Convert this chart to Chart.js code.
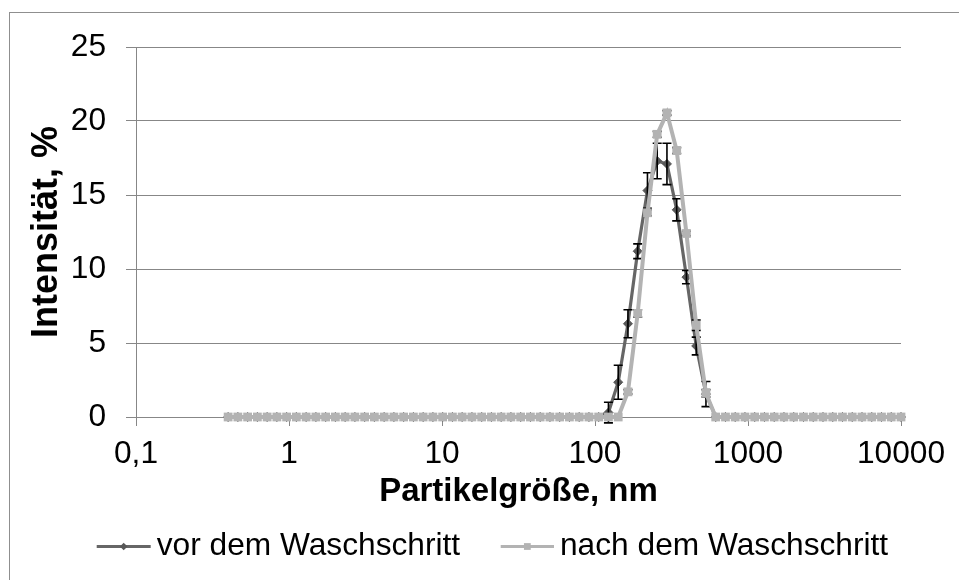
<!DOCTYPE html>
<html lang="de">
<head>
<meta charset="utf-8">
<title>Partikelgrößenverteilung</title>
<script src="https://cdn.jsdelivr.net/npm/chart.js@4/dist/chart.umd.min.js"></script>
<style>
  html, body { margin: 0; padding: 0; background: #ffffff; }
  #wrap { width: 959px; height: 580px; }
</style>
</head>
<body>
<div id="wrap"><canvas id="c" width="959" height="580"></canvas></div>
<script>
// DLS size classes (nm)
const sizeClasses = [
  0.4, 0.4632, 0.5365, 0.6213, 0.7195, 0.8332, 0.9649, 1.117, 1.294, 1.499,
  1.736, 2.010, 2.328, 2.696, 3.122, 3.615, 4.187, 4.849, 5.615, 6.503,
  7.531, 8.721, 10.10, 11.70, 13.54, 15.69, 18.17, 21.04, 24.36, 28.21,
  32.67, 37.84, 43.82, 50.75, 58.77, 68.06, 78.82, 91.28, 105.7, 122.4,
  141.8, 164.2, 190.1, 220.2, 255.0, 295.3, 342.0, 396.1, 458.7, 531.2,
  615.1, 712.4, 825.0, 955.4, 1106, 1281, 1484, 1718, 1990, 2305,
  2669, 3091, 3580, 4145, 4801, 5560, 6439, 7456, 8635, 10000
];

// Intensity (%) before washing, with standard deviation
const vorWerte = [
  0, 0, 0, 0, 0, 0, 0, 0, 0, 0,
  0, 0, 0, 0, 0, 0, 0, 0, 0, 0,
  0, 0, 0, 0, 0, 0, 0, 0, 0, 0,
  0, 0, 0, 0, 0, 0, 0, 0, 0, 0.3,
  2.35, 6.3, 11.2, 15.3, 17.3, 17.1, 14.0, 9.45, 4.8, 1.55,
  0, 0, 0, 0, 0, 0, 0, 0, 0, 0,
  0, 0, 0, 0, 0, 0, 0, 0, 0, 0
];
const vorFehler = [
  0, 0, 0, 0, 0, 0, 0, 0, 0, 0,
  0, 0, 0, 0, 0, 0, 0, 0, 0, 0,
  0, 0, 0, 0, 0, 0, 0, 0, 0, 0,
  0, 0, 0, 0, 0, 0, 0, 0, 0, 0.7,
  1.15, 0.95, 0.5, 1.2, 1.2, 1.4, 0.75, 0.45, 0.6, 0.85,
  0, 0, 0, 0, 0, 0, 0, 0, 0, 0,
  0, 0, 0, 0, 0, 0, 0, 0, 0, 0
];

// Intensity (%) after washing, with standard deviation
const nachWerte = [
  0, 0, 0, 0, 0, 0, 0, 0, 0, 0,
  0, 0, 0, 0, 0, 0, 0, 0, 0, 0,
  0, 0, 0, 0, 0, 0, 0, 0, 0, 0,
  0, 0, 0, 0, 0, 0, 0, 0, 0, 0,
  0, 1.7, 7.0, 13.8, 19.1, 20.55, 18.0, 12.4, 6.2, 1.6,
  0, 0, 0, 0, 0, 0, 0, 0, 0, 0,
  0, 0, 0, 0, 0, 0, 0, 0, 0, 0
];
const nachFehler = [
  0, 0, 0, 0, 0, 0, 0, 0, 0, 0,
  0, 0, 0, 0, 0, 0, 0, 0, 0, 0,
  0, 0, 0, 0, 0, 0, 0, 0, 0, 0,
  0, 0, 0, 0, 0, 0, 0, 0, 0, 0,
  0, 0.15, 0.25, 0.2, 0.2, 0.15, 0.2, 0.15, 0.35, 0.25,
  0, 0, 0, 0, 0, 0, 0, 0, 0, 0,
  0, 0, 0, 0, 0, 0, 0, 0, 0, 0
];

const seriesNames = ['vor dem Waschschritt', 'nach dem Waschschritt'];
const xTickValues = [0.1, 1, 10, 100, 1000, 10000];
const xTickLabels = ['0,1', '1', '10', '100', '1000', '10000'];
const yTickValues = [0, 5, 10, 15, 20, 25];
const xTitle = 'Partikelgröße, nm';
const yTitle = 'Intensität, %';

const FONT = "'Liberation Sans', Arial, sans-serif";
const GRID = '#878787';
const DARK = '#666666';
const DARK_MARK = '#575757';
const LIGHT = '#b3b3b3';

// white page with the thin outer frame
const framePlugin = {
  id: 'frame',
  beforeDraw(chart) {
    const c = chart.ctx;
    c.save();
    c.fillStyle = '#ffffff';
    c.fillRect(0, 0, chart.width, chart.height);
    c.strokeStyle = '#8f8f8f';
    c.lineWidth = 1;
    c.strokeRect(9.5, 12.5, chart.width + 20, chart.height + 20);
    c.restore();
  }
};

// vertical error bars with caps, taken from dataset.errors
function drawErrorBars(chart, index) {
  const ds = chart.data.datasets[index];
  if (!ds.errors) return;
  const meta = chart.getDatasetMeta(index);
  const ys = chart.scales.y;
  const c = chart.ctx;
  c.save();
  c.strokeStyle = '#000000';
  c.lineWidth = 1.6;
  const cap = 4.5;
  meta.data.forEach((pt, i) => {
    const e = ds.errors[i];
    if (!e) return;
    const v = ds.data[i].y;
    const yTop = ys.getPixelForValue(v + e);
    const yBot = ys.getPixelForValue(v - e);
    const x = pt.x;
    c.beginPath();
    c.moveTo(x, yTop); c.lineTo(x, yBot);
    c.moveTo(x - cap, yTop); c.lineTo(x + cap, yTop);
    c.moveTo(x - cap, yBot); c.lineTo(x + cap, yBot);
    c.stroke();
  });
  c.restore();
}
const errorBarPlugin = {
  id: 'errorBars',
  beforeDatasetDraw(chart, args) {
    if (chart.data.datasets[args.index].errorsBelow) drawErrorBars(chart, args.index);
  },
  afterDatasetDraw(chart, args) {
    if (!chart.data.datasets[args.index].errorsBelow) drawErrorBars(chart, args.index);
  }
};

// legend row under the axis title: line + marker + series name
function drawMarker(c, style, x, y, r, color) {
  c.fillStyle = color;
  c.beginPath();
  if (style === 'rectRot') {
    c.moveTo(x, y - r); c.lineTo(x + r, y); c.lineTo(x, y + r); c.lineTo(x - r, y);
  } else {
    const h = r * Math.SQRT1_2;
    c.rect(x - h, y - h, 2 * h, 2 * h);
  }
  c.closePath();
  c.fill();
}
const legendPlugin = {
  id: 'lineLegend',
  afterDraw(chart) {
    const c = chart.ctx;
    const y = 546.5;
    const slots = [
      { x0: 96.7, x1: 150.7, tx: 156.7 },
      { x0: 500.7, x1: 554, tx: 560 }
    ];
    c.save();
    chart.data.datasets.forEach((ds, i) => {
      const s = slots[i];
      c.strokeStyle = ds.borderColor;
      c.lineWidth = 3;
      c.beginPath();
      c.moveTo(s.x0, y); c.lineTo(s.x1, y);
      c.stroke();
      drawMarker(c, ds.pointStyle, (s.x0 + s.x1) / 2, y, ds.legendMarkerRadius, ds.pointBackgroundColor);
      c.fillStyle = '#000000';
      c.font = '31.7px ' + FONT;
      c.textBaseline = 'middle';
      c.textAlign = 'left';
      c.fillText(ds.label, s.tx, y - 0.5);
    });
    c.restore();
  }
};

new Chart(document.getElementById('c'), {
  type: 'line',
  data: {
    datasets: [
      {
        label: seriesNames[0],
        data: sizeClasses.map((x, i) => ({ x: x, y: vorWerte[i] })),
        errors: vorFehler,
        errorsBelow: false,
        borderColor: DARK,
        borderWidth: 3.2,
        pointStyle: 'rectRot',
        pointRadius: 4.5,
        pointBackgroundColor: DARK_MARK,
        pointBorderColor: DARK_MARK,
        pointBorderWidth: 1,
        legendMarkerRadius: 3.8,
        tension: 0,
        clip: false,
        order: 2
      },
      {
        label: seriesNames[1],
        data: sizeClasses.map((x, i) => ({ x: x, y: nachWerte[i] })),
        errors: nachFehler,
        errorsBelow: true,
        borderColor: LIGHT,
        borderWidth: 4,
        pointStyle: 'rect',
        pointRadius: 6.2,
        pointBackgroundColor: LIGHT,
        pointBorderColor: LIGHT,
        pointBorderWidth: 0,
        legendMarkerRadius: 4.8,
        tension: 0,
        clip: false,
        order: 1
      }
    ]
  },
  options: {
    responsive: false,
    animation: false,
    devicePixelRatio: 1,
    layout: { padding: { left: 0, right: 58, top: 47, bottom: 0 } },
    plugins: { legend: { display: false }, tooltip: { enabled: false } },
    scales: {
      x: {
        type: 'logarithmic',
        min: 0.1,
        max: 10000,
        afterBuildTicks: s => { s.ticks = xTickValues.map(v => ({ value: v, major: true })); },
        afterFit: s => { s.height = 163; },
        ticks: {
          callback: v => xTickLabels[xTickValues.indexOf(v)],
          font: { family: FONT, size: 31.7 },
          color: '#000000',
          padding: 9,
          maxRotation: 0,
          autoSkip: false
        },
        grid: { display: true, drawOnChartArea: false, drawTicks: true, tickLength: 9, color: GRID, lineWidth: 1 },
        border: { display: true, color: GRID, width: 1 },
        title: {
          display: true,
          text: xTitle,
          font: { family: FONT, size: 33, weight: 'bold' },
          color: '#000000',
          padding: { top: 0, bottom: 68.6 }
        }
      },
      y: {
        type: 'linear',
        min: 0,
        max: 25,
        afterBuildTicks: s => { s.ticks = yTickValues.map(v => ({ value: v })); },
        afterFit: s => { s.width = 136; },
        ticks: {
          callback: v => String(v),
          font: { family: FONT, size: 31.7 },
          color: '#000000',
          padding: 20
        },
        grid: { display: true, drawTicks: true, tickLength: 10, color: GRID, lineWidth: 1 },
        border: { display: true, color: GRID, width: 1 },
        title: {
          display: true,
          text: yTitle,
          font: { family: FONT, size: 36, weight: 'bold' },
          color: '#000000',
          padding: { top: 25, bottom: 0 }
        }
      }
    }
  },
  plugins: [framePlugin, errorBarPlugin, legendPlugin]
});
</script>
</body>
</html>
